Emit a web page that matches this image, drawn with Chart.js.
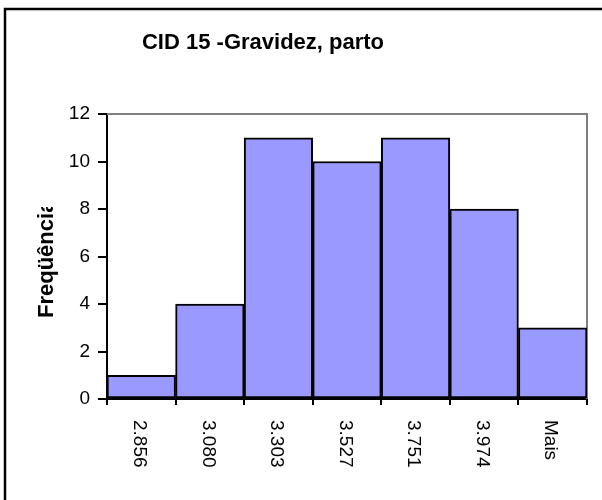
<!DOCTYPE html>
<html>
<head>
<meta charset="utf-8">
<script src="https://cdn.jsdelivr.net/npm/chart.js@4/dist/chart.umd.min.js"></script>
<style>
  html, body { margin: 0; padding: 0; background: #fff; }
  #wrap { width: 602px; height: 500px; }
</style>
</head>
<body>
<div id="wrap"><canvas id="c" width="602" height="500"></canvas></div>
<script>
// Histogram classes (bin upper limits) and counts
const categories = ['2.856', '3.080', '3.303', '3.527', '3.751', '3.974', 'Mais'];
const frequencies = [1, 4, 11, 10, 11, 8, 3];
const yMin = 0;
const yMax = 12;
const yStep = 2;

const chartTitle = 'CID 15 -Gravidez, parto';
const yTitle = 'Freqüência';

const FONT = "'Liberation Sans', Arial, sans-serif";

// Outer frame, plot frame, titles and rotated category labels
const decorations = {
  id: 'decorations',
  beforeDatasetsDraw(chart) {
    const { ctx, chartArea: a } = chart;
    ctx.save();
    ctx.strokeStyle = '#808080';
    ctx.lineWidth = 2;
    ctx.beginPath();
    ctx.moveTo(a.left, a.top);
    ctx.lineTo(a.right, a.top);
    ctx.lineTo(a.right, a.bottom);
    ctx.stroke();
    ctx.restore();
  },
  afterDraw(chart) {
    const { ctx, chartArea: a } = chart;
    const xs = chart.scales.x;
    ctx.save();

    // outer chart border (continues past the canvas edge)
    ctx.strokeStyle = '#000';
    ctx.lineWidth = 2.5;
    ctx.strokeRect(5, 9, 700, 600);

    // chart title
    ctx.fillStyle = '#000';
    ctx.font = 'bold 22px ' + FONT;
    ctx.textAlign = 'center';
    ctx.textBaseline = 'alphabetic';
    ctx.fillText(chartTitle, 263, 48.5);

    // y axis title, cut off by its text box
    ctx.save();
    ctx.beginPath();
    ctx.rect(0, 207, 100, 300);
    ctx.clip();
    ctx.translate(47, 318);
    ctx.rotate(-Math.PI / 2);
    ctx.font = 'bold 22px ' + FONT;
    ctx.textAlign = 'left';
    ctx.textBaseline = 'middle';
    ctx.fillText(yTitle, 0, 0);
    ctx.restore();

    // category labels, turned clockwise
    ctx.font = '19px ' + FONT;
    ctx.textAlign = 'left';
    ctx.textBaseline = 'middle';
    categories.forEach((lab, i) => {
      const x = xs.getPixelForValue(i) - 2;
      ctx.save();
      ctx.translate(x, a.bottom + 21);
      ctx.rotate(Math.PI / 2);
      ctx.fillText(lab, 0, 0);
      ctx.restore();
    });
    ctx.restore();
  }
};

new Chart(document.getElementById('c'), {
  type: 'bar',
  data: {
    labels: categories,
    datasets: [{
      data: frequencies,
      backgroundColor: '#9999FF',
      borderColor: '#000000',
      borderWidth: 2,
      borderSkipped: false,
      barPercentage: 1,
      categoryPercentage: 1
    }]
  },
  options: {
    responsive: false,
    animation: false,
    devicePixelRatio: 1,
    layout: { padding: { top: 114, right: 15, left: 0, bottom: 0 } },
    plugins: {
      legend: { display: false },
      title: { display: false },
      tooltip: { enabled: false }
    },
    scales: {
      x: {
        offset: true,
        afterFit(s) { s.height = 101; },
        border: { display: true, color: '#000', width: 2 },
        grid: {
          offset: true,
          drawOnChartArea: false,
          drawTicks: true,
          tickLength: 6,
          color: '#000',
          lineWidth: 2
        },
        ticks: { display: false }
      },
      y: {
        min: yMin,
        max: yMax,
        afterFit(s) { s.width = 107; },
        border: { display: true, color: '#000', width: 2 },
        grid: {
          drawOnChartArea: false,
          drawTicks: true,
          tickLength: 9,
          color: '#000',
          lineWidth: 2
        },
        ticks: {
          stepSize: yStep,
          padding: 8,
          color: '#000',
          font: { family: FONT, size: 19 }
        }
      }
    }
  },
  plugins: [decorations]
});
</script>
</body>
</html>
